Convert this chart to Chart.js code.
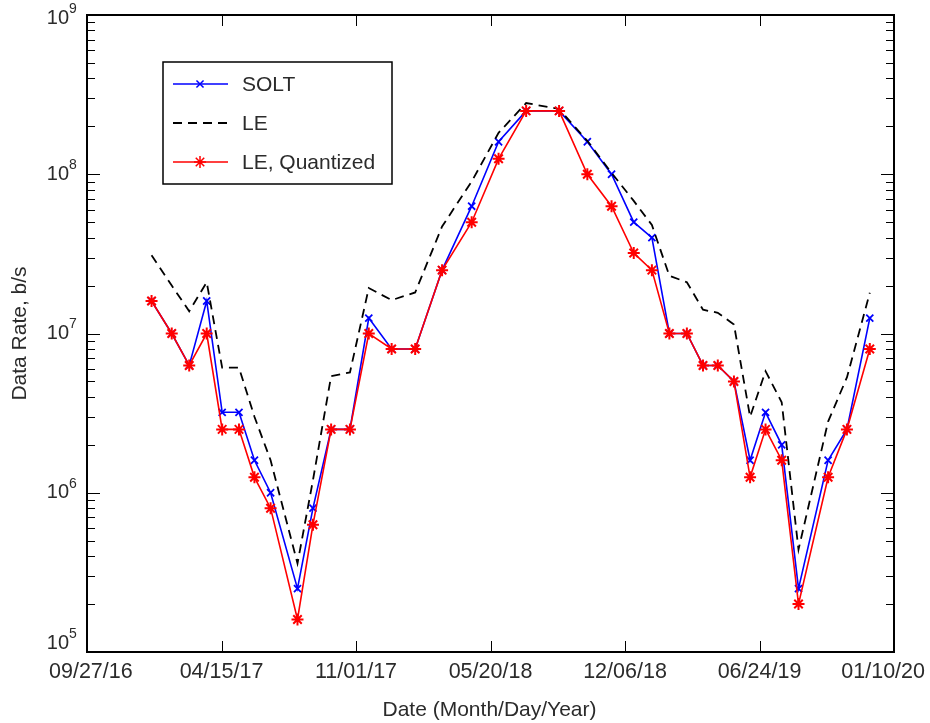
<!DOCTYPE html>
<html>
<head>
<meta charset="utf-8">
<script src="https://cdn.jsdelivr.net/npm/chart.js@4.4.1/dist/chart.umd.min.js"></script>
<style>
  html, body { margin: 0; padding: 0; background: #fff; }
  #wrap { width: 930px; height: 723px; }
</style>
</head>
<body>
<div id="wrap"><canvas id="rateChart" width="930" height="723"></canvas></div>
<script>
// days after 09/27/16 for each measurement
const dayOffsets = [96, 126, 152, 178, 201, 226, 249, 273, 313, 336, 363, 391, 419, 453, 488, 528, 572, 612,
                    653, 702, 744, 780, 813, 840, 866, 892, 916, 938, 962, 986, 1009, 1033, 1058, 1102, 1130, 1164];

const soltRate = [1.6e7, 1e7, 6.3e6, 1.6e7, 3.2e6, 3.2e6, 1.6e6, 1e6, 2.5e5, 8e5, 2.5e6, 2.5e6, 1.25e7, 8e6, 8e6, 2.5e7, 6.3e7, 1.6e8,
                  2.5e8, 2.5e8, 1.6e8, 1e8, 5e7, 4e7, 1e7, 1e7, 6.3e6, 6.3e6, 5e6, 1.6e6, 3.2e6, 2e6, 2.5e5, 1.6e6, 2.5e6, 1.25e7];

const leRate = [3.1e7, 2.0e7, 1.38e7, 2.1e7, 6.1e6, 6.1e6, 3.0e6, 1.6e6, 3.6e5, 1.2e6, 5.4e6, 5.7e6, 1.93e7, 1.62e7, 1.81e7, 4.7e7, 9.0e7, 1.82e8,
                2.8e8, 2.57e8, 1.62e8, 1.02e8, 6.8e7, 4.8e7, 2.3e7, 2.1e7, 1.41e7, 1.35e7, 1.14e7, 3.0e6, 5.8e6, 3.7e6, 4.4e5, 2.8e6, 5.3e6, 1.8e7];

const leQuantRate = [1.6e7, 1e7, 6.3e6, 1e7, 2.5e6, 2.5e6, 1.25e6, 8e5, 1.6e5, 6.3e5, 2.5e6, 2.5e6, 1e7, 8e6, 8e6, 2.5e7, 5e7, 1.25e8,
                     2.5e8, 2.5e8, 1e8, 6.3e7, 3.2e7, 2.5e7, 1e7, 1e7, 6.3e6, 6.3e6, 5e6, 1.25e6, 2.5e6, 1.6e6, 2e5, 1.25e6, 2.5e6, 8e6];

const xTickDays = [0, 200, 400, 600, 800, 1000, 1200];
const xTickLabels = ['09/27/16', '04/15/17', '11/01/17', '05/20/18', '12/06/18', '06/24/19', '01/10/20'];
const yDecades = [5, 6, 7, 8, 9];

const seriesNames = ['SOLT', 'LE', 'LE, Quantized'];

const FONT = "'Liberation Sans', Arial, Helvetica, sans-serif";
const TEXT = '#2b2b2b';

const toPoints = vals => dayOffsets.map((d, i) => ({ x: d, y: vals[i] }));

// draws the boxed axes, inward ticks, tick labels, titles and the legend
const matlabAxes = {
    id: 'matlabAxes',
    afterDraw(chart) {
        const { ctx, chartArea: a, scales: { x, y } } = chart;
        const seg = (x1, y1, x2, y2) => { ctx.beginPath(); ctx.moveTo(x1, y1); ctx.lineTo(x2, y2); ctx.stroke(); };
        ctx.save();
        ctx.strokeStyle = '#000';

        // y ticks (log decades + minor)
        ctx.lineWidth = 1;
        yDecades.forEach(e => {
            for (let m = 1; m <= 9; m++) {
                if (e === 9 && m > 1) break;
                const py = Math.round(y.getPixelForValue(m * Math.pow(10, e))) + 0.5;
                const len = m === 1 ? 13 : 8;
                seg(a.left, py, a.left + len, py);
                seg(a.right, py, a.right - len, py);
            }
        });

        // x ticks
        xTickDays.forEach(d => {
            const px = Math.round(x.getPixelForValue(d)) + 0.5;
            seg(px, a.bottom, px, a.bottom - 11);
            seg(px, a.top, px, a.top + 11);
        });

        ctx.lineWidth = 2;
        ctx.strokeRect(a.left, a.top, a.right - a.left, a.bottom - a.top);

        // y tick labels 10^n
        ctx.fillStyle = TEXT;
        yDecades.forEach(e => {
            let py = y.getPixelForValue(Math.pow(10, e));
            if (e === 5) py -= 9;
            if (e === 9) py += 3;
            ctx.font = '20px ' + FONT;
            ctx.textAlign = 'right';
            ctx.textBaseline = 'middle';
            ctx.fillText('10', 69, py);
            ctx.font = '14px ' + FONT;
            ctx.textAlign = 'left';
            ctx.fillText(String(e), 69, py - 9);
        });

        // x tick labels, kept inside the canvas like the original
        ctx.font = '21.5px ' + FONT;
        ctx.textAlign = 'center';
        ctx.textBaseline = 'middle';
        xTickDays.forEach((d, i) => {
            const w = ctx.measureText(xTickLabels[i]).width;
            let cx = x.getPixelForValue(d);
            cx = Math.max(cx, 49 + w / 2);
            cx = Math.min(cx, 925 - w / 2);
            ctx.fillText(xTickLabels[i], cx, 672);
        });

        // axis titles
        ctx.font = '21px ' + FONT;
        ctx.fillText('Date (Month/Day/Year)', (a.left + a.right) / 2 - 1, 710);
        ctx.save();
        ctx.translate(20, (a.top + a.bottom) / 2);
        ctx.rotate(-Math.PI / 2);
        ctx.fillText('Data Rate, b/s', 0, 0);
        ctx.restore();

        // legend
        const L = { left: 163, top: 62, right: 392, bottom: 184 };
        ctx.fillStyle = '#fff';
        ctx.fillRect(L.left, L.top, L.right - L.left, L.bottom - L.top);
        ctx.lineWidth = 1.5;
        ctx.strokeStyle = '#000';
        ctx.strokeRect(L.left, L.top, L.right - L.left, L.bottom - L.top);
        const rows = [84, 123, 162];
        chart.data.datasets.forEach((ds, r) => {
            const ry = rows[r];
            ctx.save();
            ctx.strokeStyle = ds.borderColor;
            ctx.lineWidth = ds.borderWidth;
            ctx.setLineDash(ds.borderDash || []);
            seg(173, ry, 228, ry);
            ctx.restore();
            if (ds.pointRadius > 0) {
                ctx.save();
                ctx.strokeStyle = ds.pointBorderColor;
                ctx.fillStyle = ds.pointBorderColor;
                Chart.helpers.drawPoint(ctx, {
                    pointStyle: ds.pointStyle, radius: ds.pointRadius,
                    borderWidth: ds.pointBorderWidth, rotation: 0
                }, 200, ry);
                ctx.restore();
            }
            ctx.fillStyle = TEXT;
            ctx.font = '21px ' + FONT;
            ctx.textAlign = 'left';
            ctx.textBaseline = 'middle';
            ctx.fillText(ds.label, 242, ry + 1);
        });

        ctx.restore();
    }
};

new Chart(document.getElementById('rateChart'), {
    type: 'line',
    data: {
        datasets: [
            {
                label: seriesNames[0],
                data: toPoints(soltRate),
                borderColor: '#0000ff',
                borderWidth: 1.6,
                pointStyle: 'crossRot',
                pointRadius: 5,
                pointBorderWidth: 1.8,
                pointBorderColor: '#0000ff',
                pointBackgroundColor: '#0000ff',
                order: 2
            },
            {
                label: seriesNames[1],
                data: toPoints(leRate),
                borderColor: '#000000',
                borderWidth: 1.8,
                borderDash: [9, 6],
                pointRadius: 0,
                order: 1
            },
            {
                label: seriesNames[2],
                data: toPoints(leQuantRate),
                borderColor: '#ff0000',
                borderWidth: 1.6,
                pointStyle: 'star',
                pointRadius: 6,
                pointBorderWidth: 2,
                pointBorderColor: '#ff0000',
                pointBackgroundColor: '#ff0000',
                order: 0
            }
        ]
    },
    options: {
        responsive: false,
        animation: false,
        events: [],
        layout: { padding: { left: 87, right: 36, top: 15, bottom: 71 } },
        plugins: { legend: { display: false }, tooltip: { enabled: false } },
        elements: { line: { tension: 0 } },
        scales: {
            x: { type: 'linear', min: 0, max: 1200, display: false },
            y: { type: 'logarithmic', min: 1e5, max: 1e9, display: false }
        }
    },
    plugins: [matlabAxes]
});
</script>
</body>
</html>
